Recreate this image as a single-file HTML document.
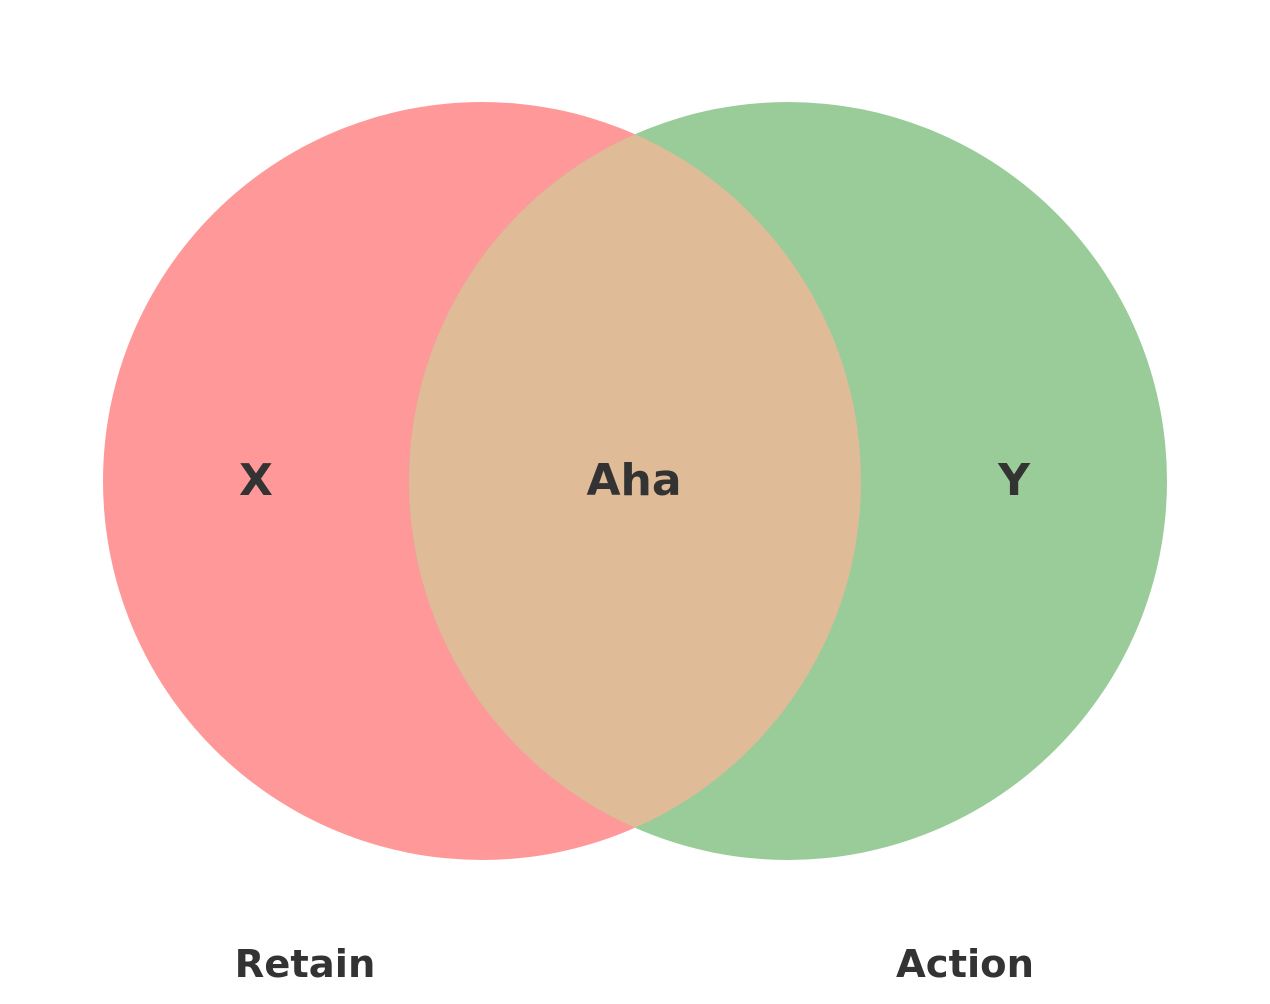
<!DOCTYPE html>
<html><head><meta charset="utf-8"><style>
html,body{margin:0;padding:0;background:#fff;width:1270px;height:1004px;overflow:hidden}
text{font-family:"DejaVu Sans","Liberation Sans",sans-serif;font-weight:bold;fill:#333}
.i{font-size:44px}.b{font-size:38.5px}
</style></head><body>
<svg width="1270" height="1004" viewBox="0 0 1270 1004" xmlns="http://www.w3.org/2000/svg">
<defs><clipPath id="c"><circle cx="482" cy="481" r="379"/></clipPath></defs>
<circle cx="482" cy="481" r="379" fill="#ff9999"/>
<circle cx="788" cy="481" r="379" fill="#99cc99"/>
<circle cx="788" cy="481" r="379" fill="#dfbb97" clip-path="url(#c)"/>
<text class="i" x="256" y="495" text-anchor="middle">X</text>
<text class="i" x="634" y="495" text-anchor="middle">Aha</text>
<text class="i" x="1014" y="495" text-anchor="middle">Y</text>
<text class="b" x="305" y="977" text-anchor="middle">Retain</text>
<text class="b" x="965" y="977" text-anchor="middle">Action</text>
</svg>
</body></html>
